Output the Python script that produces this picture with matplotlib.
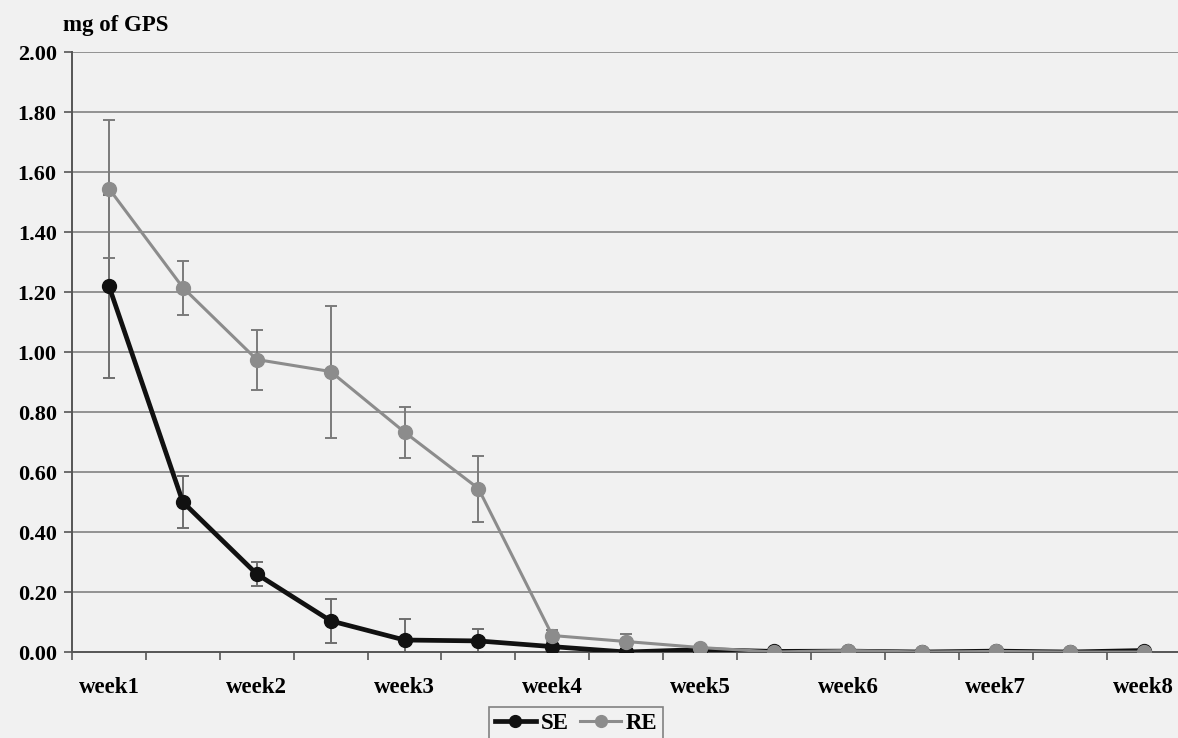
import matplotlib
matplotlib.use("Agg")
import matplotlib.pyplot as plt
import numpy as np

# Weekly sampling points (two per week)
categories = ["week1", "", "week2", "", "week3", "", "week4", "", "week5",
              "", "week6", "", "week7", "", "week8"]

se_mean = [1.22, 0.50, 0.26, 0.104, 0.04, 0.037, 0.018, 0.0, 0.008,
           0.002, 0.003, 0.0, 0.003, 0.0, 0.005]
se_err = [0.305, 0.087, 0.04, 0.073, 0.07, 0.04, 0.01, 0.005, 0.005,
          0.003, 0.003, 0.003, 0.003, 0.003, 0.003]

re_mean = [1.545, 1.215, 0.975, 0.935, 0.733, 0.545, 0.055, 0.035, 0.015,
           0.0, 0.005, 0.0, 0.002, 0.0, 0.0]
re_err = [0.23, 0.09, 0.10, 0.22, 0.085, 0.11, 0.02, 0.025, 0.01,
          0.004, 0.004, 0.004, 0.004, 0.004, 0.004]

y_ticks = np.arange(0, 2.01, 0.2)

plt.rcParams["font.family"] = ["Liberation Serif", "DejaVu Serif"]
plt.rcParams["font.weight"] = "bold"

bg = "#f1f1f1"
fig = plt.figure(figsize=(11.78, 7.38), dpi=100, facecolor=bg)
ax = fig.add_axes([0.0611, 0.1165, 0.941, 0.813], facecolor=bg)

x = np.arange(len(categories))

for y in y_ticks[1:]:
    ax.axhline(y, color="#8a8a8a", lw=1.3, zorder=1)

ax.errorbar(x, se_mean, yerr=se_err, fmt="none", ecolor="#6e6e6e",
            elinewidth=1.4, capsize=4.5, capthick=1.4, zorder=2)
ax.errorbar(x, re_mean, yerr=re_err, fmt="none", ecolor="#7a7a7a",
            elinewidth=1.4, capsize=4.5, capthick=1.4, zorder=2)

ax.plot(x, se_mean, color="#111111", lw=3.4, marker="o", markersize=10,
        label="SE", zorder=3)
ax.plot(x, re_mean, color="#8c8c8c", lw=2.2, marker="o", markersize=10,
        label="RE", zorder=4)

ax.set_xlim(-0.5, len(categories) - 0.5)
ax.set_ylim(0, 2.0)

ax.set_yticks(y_ticks)
ax.set_yticklabels([f"{v:.2f}" for v in y_ticks], fontsize=16,
                   fontweight="bold")
ax.set_xticks(x)
ax.set_xticklabels(categories, fontsize=16.5, fontweight="bold")
ax.tick_params(axis="x", length=0, pad=18)
ax.set_xticks(np.arange(-0.5, len(categories), 1.0), minor=True)
ax.tick_params(axis="x", which="minor", length=6, width=1.2,
               color="#555555", direction="out")
ax.tick_params(axis="y", length=6, width=1.2, color="#555555",
               direction="out", pad=5)

for side in ["top", "right"]:
    ax.spines[side].set_visible(False)
ax.spines["left"].set_color("#555555")
ax.spines["left"].set_linewidth(1.4)
ax.spines["bottom"].set_color("#555555")
ax.spines["bottom"].set_linewidth(1.4)

fig.text(63 / 1178, 1 - 25 / 738, "mg of GPS", fontsize=16.5,
         fontweight="bold", va="center", ha="left")

leg = fig.legend(loc="lower center", bbox_to_anchor=(576 / 1178, -0.018),
                 ncol=2, frameon=True, fancybox=False, fontsize=16.5,
                 handlelength=1.8, handletextpad=0.2, columnspacing=0.5,
                 borderpad=0.25, markerscale=0.85)
leg.get_frame().set_edgecolor("#666666")
leg.get_frame().set_facecolor(bg)
leg.get_frame().set_linewidth(1.2)

fig.savefig("out.png", dpi=100, facecolor=bg)
